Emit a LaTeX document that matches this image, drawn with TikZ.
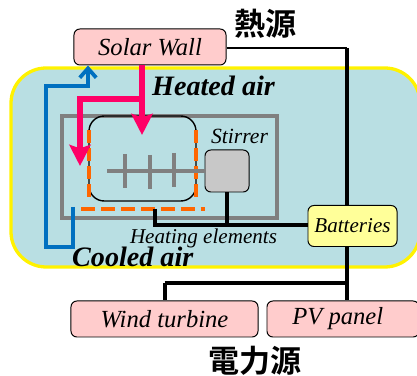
\documentclass[tikz,border=0pt]{standalone}
\usepackage{fontspec}
\setmainfont{Liberation Serif}
\newfontfamily\cjkfont{Noto Sans CJK JP}[BoldFont={Noto Sans CJK JP Bold}]
\usetikzlibrary{arrows.meta, positioning}
\definecolor{roomblue}{HTML}{B9DFE3}
\definecolor{panelpink}{HTML}{FFCCCC}
\definecolor{battyellow}{HTML}{FFFF99}
\definecolor{heatpink}{HTML}{FF0066}
\definecolor{coolblue}{HTML}{0070C0}
\definecolor{wallgray}{HTML}{808080}
\definecolor{elemorange}{HTML}{FF6600}
\definecolor{stirgray}{HTML}{C8C8C8}
\tikzset{
    source/.style={draw=black, line width=0.85pt, rounded corners=5pt, fill=panelpink, font=\itshape\fontsize{21}{21}\selectfont, inner sep=0pt},
    wire/.style={line width=3.4pt, black},
    airlabel/.style={font=\bfseries\itshape\fontsize{24}{24}\selectfont, inner sep=0pt},
    heatflow/.style={line width=5.2pt, heatpink},
    kanji/.style={font=\cjkfont\bfseries\fontsize{26.5}{26.5}\selectfont, inner sep=0pt},
}
\begin{document}
\begin{tikzpicture}[x=0.03cm, y=-0.03cm]
    \useasboundingbox (0,0) rectangle (417,376);

    % Room
    \draw[line width=2.8pt, draw=yellow, fill=roomblue, rounded corners=30pt] (11,68) rectangle (420,267);

    % Tank and heating elements
    \draw[line width=2.6pt, wallgray] (62,116) rectangle (277,218);
    \draw[line width=1.2pt, rounded corners=13pt] (89,116) rectangle (196,201);
    \draw[line width=4pt, elemorange, dash pattern=on 11pt off 4.5pt] (89,130) -- (89,201);
    \draw[line width=4pt, elemorange, dash pattern=on 11pt off 4.5pt] (196,130) -- (196,201);
    \draw[line width=4pt, elemorange, dash pattern=on 12pt off 5pt] (81,209) -- (205,209);

    % Stirrer
    \node[draw=black, line width=0.85pt, fill=stirgray, rounded corners=5pt, minimum width=1.32cm, minimum height=1.26cm, inner sep=0pt] (stirrerbox) at (227,171) {};
    \node[font=\itshape\fontsize{18.5}{18.5}\selectfont, inner sep=0pt] (stirrerlabel) at (239.5,136) {Stirrer};
    \draw[line width=3.4pt, wallgray] (107,171) -- (stirrerbox.west);
    \draw[line width=3.4pt, wallgray] (125,154) -- (125,188);
    \draw[line width=3.4pt, wallgray] (150,155) -- (150,189);
    \draw[line width=3.4pt, wallgray] (174,153) -- (174,187);

    % Boxes
    \node[source, minimum width=4.56cm, minimum height=1.08cm] (solarwall) at (150,47) {Solar Wall};
    \node[source, minimum width=5.61cm, minimum height=1.08cm] (windturbine) at (164.5,319) {Wind turbine};
    \node[source, minimum width=4.56cm, minimum height=1.08cm] (pvpanel) at (343,319) {PV panel\kern9pt\null};
    \node[draw=black, line width=0.85pt, fill=battyellow, rounded corners=5pt, minimum width=2.67cm, minimum height=1.23cm, inner sep=0pt, font=\itshape\fontsize{18}{18}\selectfont] (batteries) at (352.5,226) {Batteries};

    % Wires
    \coordinate (topcorner) at (347,48);
    \coordinate (elemtap) at (155,209);
    \coordinate (elemcorner) at (155,225);
    \coordinate (windcorner) at (165,283);
    \draw[line width=1.2pt] (solarwall.east |- topcorner) -- (topcorner);
    \draw[wire] (topcorner) -- (topcorner |- batteries.north);
    \draw[wire] (elemtap) -- (elemcorner) -- (elemcorner -| batteries.west);
    \draw[wire] (stirrerbox.south) -- (stirrerbox.south |- elemcorner);
    \draw[wire] (topcorner |- batteries.south) -- (topcorner |- pvpanel.north);
    \draw[wire] (windcorner -| windturbine.north) -- (windcorner) -- (windcorner -| topcorner);
    \draw[wire] (windcorner) -- (windcorner |- windturbine.north);

    % Air flows
    \coordinate (heatsplit) at (142,99);
    \coordinate (heatcorner) at (80,99);
    \draw[heatflow, -{Stealth[length=18pt, width=18pt, inset=3pt]}] (solarwall.south -| heatsplit) -- (142,135);
    \draw[heatflow, -{Stealth[length=18pt, width=18pt, inset=3pt]}] (heatsplit) -- (heatcorner) -- (80,166);
    \coordinate (coolA) at (73,207);
    \coordinate (coolB) at (73,247);
    \coordinate (coolC) at (46,247);
    \coordinate (coolD) at (46,86);
    \coordinate (coolE) at (88,86);
    \draw[line width=3.2pt, coolblue, -{Straight Barb[length=8pt, width=14pt]}] (coolA) -- (coolB) -- (coolC) -- (coolD) -- (coolE) -- (solarwall.south -| coolE);

    % Labels
    \node[airlabel, anchor=west] (heatedair) at (152,86) {Heated air};
    \node[airlabel, anchor=west] (cooledair) at (72,257) {Cooled air};
    \node[font=\itshape\fontsize{18}{18}\selectfont, inner sep=0pt] (heatingelements) at (203.5,238) {Heating elements};
    \node[kanji] (heatsource) at (265.5,24) {\cjkfont\bfseries 熱源};
    \node[kanji] (powersource) at (255,361) {\cjkfont\bfseries 電力源};
\end{tikzpicture}
\end{document}
